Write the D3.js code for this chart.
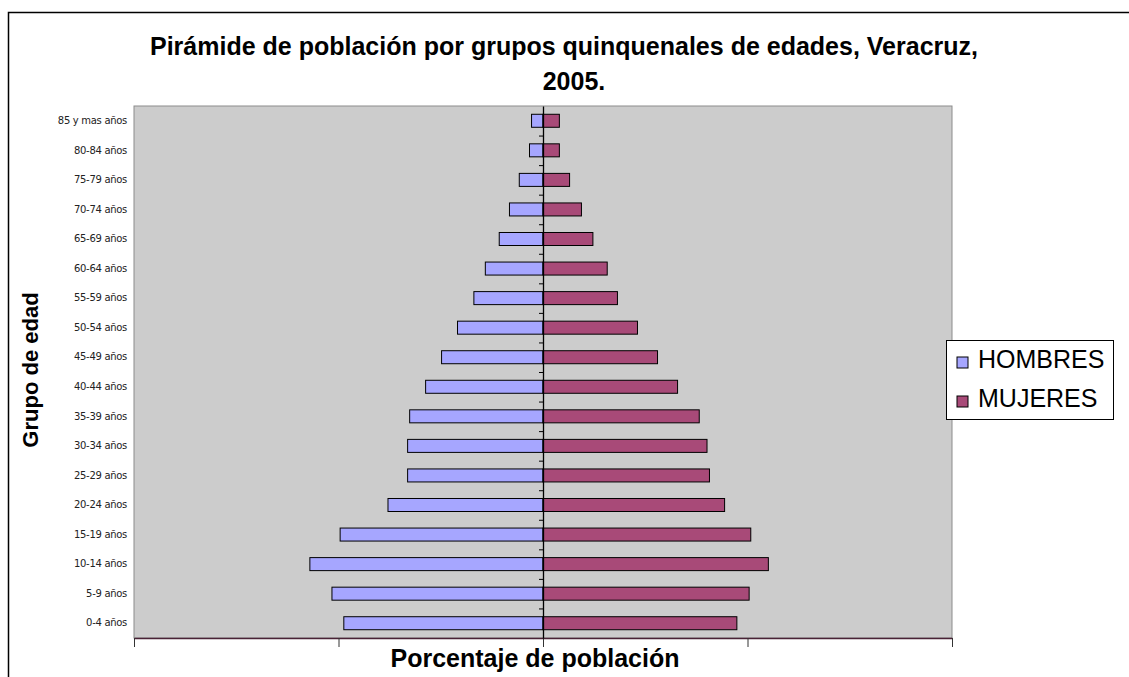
<!DOCTYPE html>
<html>
<head>
<meta charset="utf-8">
<script src="https://cdn.jsdelivr.net/npm/d3@7"></script>
<style>
  body { margin: 0; background: #fff; }
  svg { display: block; }
</style>
</head>
<body>
<div id="chart"></div>
<script>
// age groups, top to bottom
const ageGroups = ["85 y mas años", "80-84 años", "75-79 años", "70-74 años", "65-69 años",
  "60-64 años", "55-59 años", "50-54 años", "45-49 años", "40-44 años", "35-39 años",
  "30-34 años", "25-29 años", "20-24 años", "15-19 años", "10-14 años", "5-9 años", "0-4 años"];
// percent of population
const hombres = [0.28, 0.33, 0.58, 0.82, 1.07, 1.41, 1.69, 2.09, 2.48, 2.87, 3.26,
  3.31, 3.31, 3.79, 4.96, 5.70, 5.16, 4.87];
const mujeres = [0.40, 0.40, 0.65, 0.94, 1.22, 1.57, 1.82, 2.31, 2.80, 3.29, 3.82,
  4.01, 4.07, 4.44, 5.08, 5.51, 5.04, 4.74];
const xTicks = [-10, -5, 0, 5, 10];
const seriesNames = ["HOMBRES", "MUJERES"];
const seriesColors = ["#a6a6ff", "#a84a78"];

const width = 1129;
const height = 677;
let plotLeft = 134, plotRight = 952, plotTop = 106, plotBottom = 638;

const svg = d3.select("#chart").append("svg")
  .attr("width", width)
  .attr("height", height);

// outer frame (right and bottom edges fall outside the picture)
svg.append("rect")
  .attr("x", 8.5).attr("y", 12.5)
  .attr("width", 1200).attr("height", 800)
  .attr("fill", "none").attr("stroke", "#000").attr("stroke-width", 1.5);

const x = d3.scaleLinear([-10, 10], [plotLeft, plotRight]);
const y = d3.scaleBand(ageGroups, [plotTop, plotBottom]).paddingInner(0.56).paddingOuter(0.28);
const yIdx = d3.scaleLinear([0, ageGroups.length], [plotTop, plotBottom]);

// plot area
svg.append("rect")
  .attr("x", plotLeft).attr("y", plotTop)
  .attr("width", plotRight - plotLeft).attr("height", plotBottom - plotTop)
  .attr("fill", "#cccccc").attr("stroke", "#8c8c8c").attr("stroke-width", 1);

// title
const title = svg.append("text")
  .attr("text-anchor", "middle")
  .attr("font-family", "Liberation Sans, Arial, sans-serif")
  .attr("font-weight", "bold")
  .attr("font-size", 25)
  .attr("fill", "#000");
title.append("tspan").attr("x", 564).attr("y", 55)
  .text("Pirámide de población por grupos quinquenales de edades, Veracruz,");
title.append("tspan").attr("x", 574).attr("y", 90).text("2005.");

// bars - hombres to the left
svg.append("g").selectAll("rect")
  .data(hombres)
  .join("rect")
  .attr("x", d => x(-d))
  .attr("y", (d, i) => y(ageGroups[i]))
  .attr("width", d => x(0) - x(-d))
  .attr("height", y.bandwidth())
  .attr("fill", seriesColors[0])
  .attr("stroke", "#000").attr("stroke-width", 1);

// mujeres to the right
svg.append("g").selectAll("rect")
  .data(mujeres)
  .join("rect")
  .attr("x", x(0))
  .attr("y", (d, i) => y(ageGroups[i]))
  .attr("width", d => x(d) - x(0))
  .attr("height", y.bandwidth())
  .attr("fill", seriesColors[1])
  .attr("stroke", "#000").attr("stroke-width", 1);

// x axis, ticks only
svg.append("g")
  .attr("transform", `translate(0,${plotBottom})`)
  .call(d3.axisBottom(x).tickValues(xTicks).tickFormat("").tickSize(9).tickSizeOuter(0))
  .call(g => g.select(".domain").attr("stroke", "#4a2236").attr("stroke-width", 1.5))
  .call(g => g.selectAll(".tick line").attr("stroke", "#333"));

// centre category axis with small ticks between groups
svg.append("g")
  .attr("transform", `translate(${x(0)},0)`)
  .call(d3.axisLeft(yIdx).tickValues(d3.range(1, ageGroups.length)).tickFormat("").tickSize(4).tickSizeOuter(0))
  .call(g => g.select(".domain").attr("stroke", "#000").attr("stroke-width", 1.3))
  .call(g => g.selectAll(".tick line").attr("stroke", "#000"));

// category labels
svg.append("g")
  .attr("transform", `translate(${plotLeft},0)`)
  .call(d3.axisLeft(y).tickSize(0).tickPadding(7))
  .call(g => g.select(".domain").remove())
  .call(g => g.selectAll("text")
    .attr("font-family", "DejaVu Sans, Verdana, sans-serif")
    .attr("font-size", 10)
    .attr("letter-spacing", -0.3)
    .attr("fill", "#222"));

// axis titles
svg.append("text")
  .attr("transform", "translate(38,370) rotate(-90)")
  .attr("text-anchor", "middle")
  .attr("font-family", "Liberation Sans, Arial, sans-serif")
  .attr("font-weight", "bold")
  .attr("font-size", 22)
  .text("Grupo de edad");

svg.append("text")
  .attr("x", 535).attr("y", 667)
  .attr("text-anchor", "middle")
  .attr("font-family", "Liberation Sans, Arial, sans-serif")
  .attr("font-weight", "bold")
  .attr("font-size", 25)
  .text("Porcentaje de población");

// legend
const legend = svg.append("g");
legend.append("rect")
  .attr("x", 946.5).attr("y", 340.5)
  .attr("width", 167).attr("height", 79)
  .attr("fill", "#fff").attr("stroke", "#000").attr("stroke-width", 1);
const items = legend.selectAll("g.item")
  .data(seriesNames)
  .join("g")
  .attr("class", "item")
  .attr("transform", (d, i) => `translate(957,${357 + i * 39})`);
items.append("rect")
  .attr("width", 11).attr("height", 11)
  .attr("fill", (d, i) => seriesColors[i])
  .attr("stroke", "#000").attr("stroke-width", 1);
items.append("text")
  .attr("x", 21).attr("y", 11)
  .attr("font-family", "Liberation Sans, Arial, sans-serif")
  .attr("font-size", 25)
  .text(d => d);
</script>
</body>
</html>
